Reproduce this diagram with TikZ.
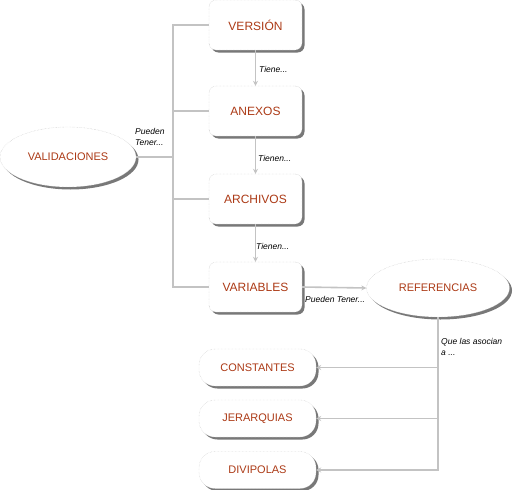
\documentclass[tikz,border=0pt]{standalone}
\usepackage{fontspec}
\setmainfont{Liberation Sans}
\usetikzlibrary{shapes.geometric,shadows,arrows.meta}
\definecolor{txtred}{RGB}{172,58,22}
\definecolor{linegray}{RGB}{195,195,195}
\definecolor{shadowgray}{RGB}{120,120,120}
\tikzset{
  x=1pt,y=-1pt,
  shad/.style={drop shadow={shadow xshift=2.5pt,shadow yshift=-2.5pt,fill=shadowgray,opacity=1}},
  bigbox/.style={draw=gray!60,densely dotted,fill=white,rounded corners=7pt,minimum width=93pt,minimum height=50pt,shad,
     text=txtred,font=\fontsize{12}{14}\selectfont,inner sep=0pt},
  smallbox/.style={draw=gray!45,densely dotted,fill=white,rounded corners=16pt,minimum width=117pt,minimum height=37pt,shad,
     text=txtred,font=\fontsize{11}{13}\selectfont,inner sep=0pt},
  ell/.style={ellipse,draw=gray!50,densely dotted,fill=white,shad,text=txtred,font=\fontsize{11}{13}\selectfont,inner sep=0pt},
  conn/.style={draw=linegray,line width=1.6pt},
  arr/.style={conn,-{Stealth[length=5pt,width=5pt]}},
  lbl/.style={font=\fontsize{8.5}{11}\selectfont\itshape,text=black,inner sep=0pt,align=left}
}
\begin{document}
\begin{tikzpicture}
\useasboundingbox (0,0) rectangle (515,490);
% nodes
\node[bigbox] (ver) at (255.5,25) {VERSIÓN};
\node[bigbox] (ane) at (255.5,111) {ANEXOS};
\node[bigbox] (arc) at (255.5,199) {ARCHIVOS};
\node[bigbox] (var) at (255.5,287) {VARIABLES};
\node[ell,minimum width=136pt,minimum height=60pt] (val) at (68,157) {VALIDACIONES};
\node[ell,minimum width=143pt,minimum height=58pt] (ref) at (438,288) {REFERENCIAS};
\node[smallbox] (con) at (257.5,367.5) {CONSTANTES};
\node[smallbox] (jer) at (257.5,418.5) {JERARQUIAS};
\node[smallbox] (div) at (257.5,470) {DIVIPOLAS};
% connectors
\draw[conn] (val.east) -- ++(36,0) coordinate (bj);
\draw[conn] (ver.west) -- ++(-36,0) coordinate (btop) |- (var.west);
\draw[conn] (ane.west) -- ++(-36,0);
\draw[conn] (arc.west) -- ++(-36,0);
\draw[arr] (ver.south) -- (ane.north);
\draw[arr] (ane.south) -- (arc.north);
\draw[arr] (arc.south) -- (var.north);
\draw[arr] (var.east) -- (ref.west);
\draw[arr] (ref.south) |- (con.east);
\draw[arr] (ref.south) |- (jer.east);
\draw[arr] (ref.south) |- (div.east);
% labels
\node[lbl,anchor=west] (l1) at (259,69) {Tiene...};
\node[lbl,anchor=west] (l2) at (258,158) {Tienen...};
\node[lbl,anchor=west] (l3) at (256,246) {Tienen...};
\node[lbl,anchor=west] (l4) at (135,137) {Pueden\\Tener...};
\node[lbl,anchor=west] (l5) at (305,299) {Pueden Tener...};
\node[lbl,anchor=west] (l6) at (441,347) {Que las asocian\\a ...};
\end{tikzpicture}
\end{document}
